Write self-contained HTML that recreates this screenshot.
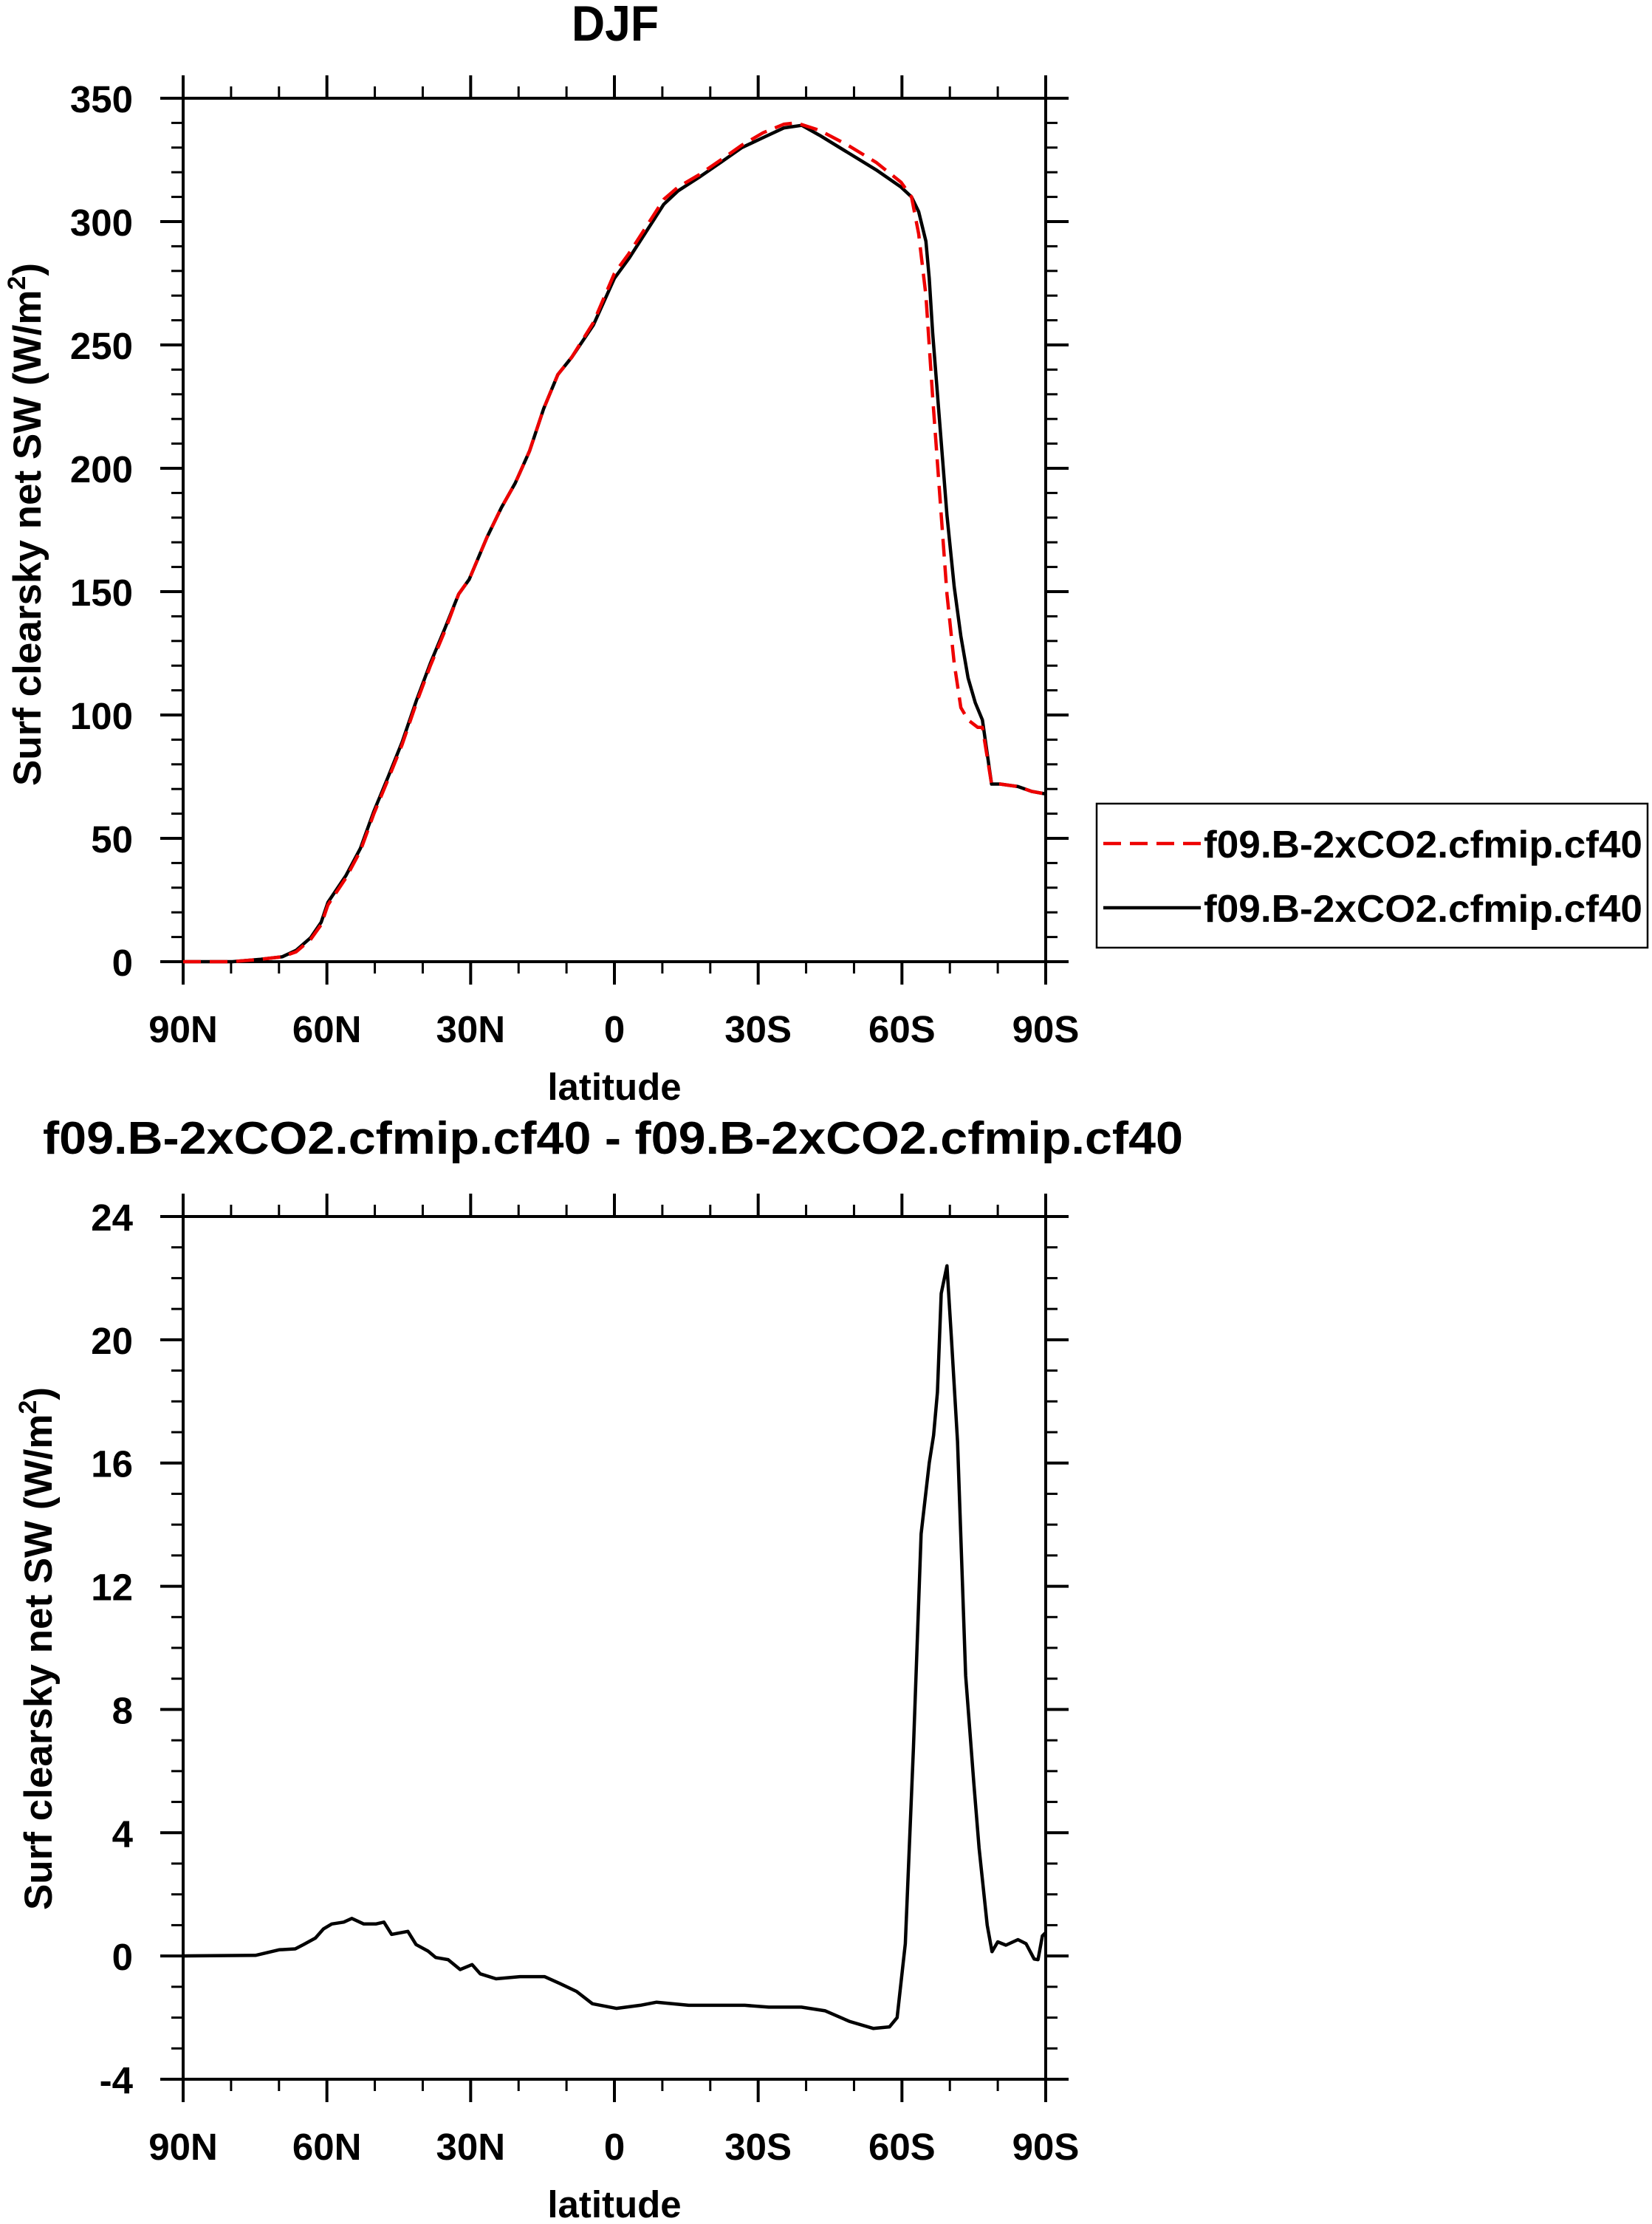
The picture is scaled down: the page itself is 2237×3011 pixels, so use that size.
<!DOCTYPE html>
<html><head><meta charset="utf-8"><style>
html,body{margin:0;padding:0;background:#fff;}
svg{display:block;font-family:"Liberation Sans",Arial,sans-serif;font-weight:bold;}
</style></head><body>
<svg id="fig" width="2237" height="3011" viewBox="0 0 2237 3011" xmlns="http://www.w3.org/2000/svg">
<text x="833" y="55" font-size="68" text-anchor="middle" textLength="118" lengthAdjust="spacingAndGlyphs">DJF</text>
<text x="830" y="1562" font-size="62" text-anchor="middle" textLength="1544" lengthAdjust="spacingAndGlyphs">f09.B-2xCO2.cfmip.cf40 - f09.B-2xCO2.cfmip.cf40</text>
<g id="top"></g>
<g id="bot"></g>
<g>
<rect x="1485" y="1088" width="746" height="195" fill="none" stroke="#000" stroke-width="2.5"/>
<line x1="1494" y1="1142" x2="1626" y2="1142" stroke="#e00" stroke-width="4.5" stroke-dasharray="24,12"/>
<text x="1630" y="1161" font-size="52" textLength="594" lengthAdjust="spacingAndGlyphs">f09.B-2xCO2.cfmip.cf40</text>
<line x1="1494" y1="1229" x2="1626" y2="1229" stroke="#000" stroke-width="4.5"/>
<text x="1630" y="1248" font-size="52" textLength="594" lengthAdjust="spacingAndGlyphs">f09.B-2xCO2.cfmip.cf40</text>
</g>
</svg>
<script>
const xTickLats = [90,60,30,0,-30,-60,-90];
const xTickLabels = ["90N","60N","30N","0","30S","60S","90S"];
const topYTicks = [0,50,100,150,200,250,300,350];
const botYTicks = [-4,0,4,8,12,16,20,24];
const blackLat = [90,79.7,73.8,69.3,66.4,63.4,61.2,59.8,56,53,50.2,47.2,44.3,41.3,38.4,35.4,32.5,30.3,26.6,23.6,20.7,17.7,14.8,11.8,8.9,4.4,0,-3,-6,-10.3,-13.3,-17.7,-22.2,-26.6,-31,-35.4,-39.1,-42.8,-48.7,-54.6,-59.8,-62,-63.5,-65,-65.7,-66.4,-67.9,-69.4,-70.9,-72.3,-73.8,-75.3,-76.8,-78.7,-80.5,-84.2,-87.1,-90];
const blackVal = [0,0,1,2,4.6,9.7,16,24,35,46,61,75,89,106,121,135,149,155,172,184,194,207,224,238,245,258,277,285,294,307,312.5,318,324,330,334,338,339,335,328,321,314,310,304,292,277,255,218,181,152,132,115,105,98,72,72,71,69,68];
const redLat = [90,79.7,73.8,69.3,66.4,63.4,61.2,59.8,56,53,50.2,47.2,44.3,41.3,38.4,35.4,32.5,30.3,26.6,23.6,20.7,17.7,14.8,11.8,8.9,4.4,0,-3,-6,-10.3,-13.3,-17.7,-22.2,-26.6,-31,-35.4,-38,-42.8,-48.7,-54.6,-59.8,-62,-63.5,-65,-66.4,-67.9,-69.4,-70.9,-72.3,-73.8,-75.8,-76.8,-78.7,-80.5,-84.2,-87.1,-90];
const redVal = [0,0,1,2,4,9,15,23,34,45,60,74,88,105,120,134,149,155,172,184,194,207,224,238,245,259,279,287,296,309,314,319,325,331,336,339.5,340,337,331,324,316,310,295,270,229,189,149,121,103,98,95,95,72,72,71,69,68];
const diffLat = [90,74.9,70,66.6,64.9,62.4,60.7,59,56.5,54.8,52.3,49.8,48.1,46.5,43.1,41.4,38.9,37.3,34.7,32.2,29.7,28,24.7,19.7,14.6,11.3,7.9,4.6,-0.4,-5.4,-8.8,-15.5,-22.2,-27.2,-32.2,-39,-44,-49,-54,-57.4,-59,-60.7,-62.4,-64,-65.7,-66.6,-67.4,-68.2,-69.4,-70.3,-71.6,-73.3,-75,-76.1,-77.8,-78.8,-80,-81.7,-84.2,-85.9,-87.6,-88.4,-89.3,-90];
const diffVal = [0,0.02,0.2,0.23,0.37,0.58,0.88,1.04,1.1,1.22,1.04,1.04,1.1,0.7,0.8,0.37,0.16,-0.05,-0.12,-0.44,-0.28,-0.58,-0.74,-0.67,-0.67,-0.9,-1.15,-1.55,-1.7,-1.6,-1.5,-1.6,-1.6,-1.6,-1.66,-1.66,-1.78,-2.12,-2.35,-2.3,-2.0,0.4,6.75,13.7,16,16.9,18.3,21.5,22.4,20.1,16.7,9.1,5.6,3.5,1,0.14,0.46,0.35,0.53,0.4,-0.1,-0.12,0.65,0.76];

const NS="http://www.w3.org/2000/svg";
function mk(parent,tag,attrs){const e=document.createElementNS(NS,tag);for(const k in attrs)e.setAttribute(k,attrs[k]);parent.appendChild(e);return e;}
const L=248,R=1416;
function xs(lat){return L+(90-lat)/180*(R-L);}

function drawPanel(g,top,bot,ymin,ymax,yTicks,minorStep,yTitleX,yTitleY){
  const ys=v=>bot-(v-ymin)/(ymax-ymin)*(bot-top);
  const fr=mk(g,'rect',{x:L,y:top,width:R-L,height:bot-top,fill:'none',stroke:'#000','stroke-width':4});
  
  
  for(let lat=90;lat>=-90;lat-=10){
    const major=lat%30===0, len=major?31:16, x=xs(lat);
    const t1=mk(g,'line',{x1:x,y1:bot,x2:x,y2:bot+len,stroke:'#000','stroke-width':major?4:3});
    
    
    const t2=mk(g,'line',{x1:x,y1:top,x2:x,y2:top-len,stroke:'#000','stroke-width':major?4:3});
    
    
  }
  xTickLats.forEach((lat,i)=>{
    const t=mk(g,'text',{x:xs(lat),y:bot+109,'font-size':51,'text-anchor':'middle'});
    t.textContent=xTickLabels[i];
    
    
  });
  const majorStep=yTicks[1]-yTicks[0];
  for(let v=ymin;v<=ymax+1e-9;v+=minorStep){
    const major=Math.abs(((v-ymin)/majorStep)-Math.round((v-ymin)/majorStep))<1e-6;
    const len=major?31:16,y=ys(v);
    const t1=mk(g,'line',{x1:L-len,y1:y,x2:L,y2:y,stroke:'#000','stroke-width':major?4:3});
    
    
    const t2=mk(g,'line',{x1:R,y1:y,x2:R+len,y2:y,stroke:'#000','stroke-width':major?4:3});
    
    
  }
  yTicks.forEach(v=>{
    const t=mk(g,'text',{x:180,y:ys(v)+19,'font-size':51,'text-anchor':'end'});
    t.textContent=String(v);
    
    
  });
  const xt=mk(g,'text',{x:(L+R)/2,y:bot+187,'font-size':51,'text-anchor':'middle'});
  xt.textContent='latitude';
  
  
  const yt=mk(g,'text',{x:0,y:0,'font-size':53,'text-anchor':'middle',transform:`translate(${yTitleX},${yTitleY}) rotate(-90)`});
  yt.innerHTML='Surf clearsky net SW (W/m<tspan font-size="34" dy="-21">2</tspan><tspan dy="21">)</tspan>';
  
  
  return ys;
}
function path(g,lats,vals,ys,color,dash,name){
  const d=lats.map((la,i)=>(i?'L':'M')+xs(la).toFixed(1)+','+ys(vals[i]).toFixed(1)).join(' ');
  const p=mk(g,'path',{d:d,fill:'none',stroke:color,'stroke-width':4.5,'stroke-linejoin':'round'});
  if(dash)p.setAttribute('stroke-dasharray',dash);
  
  
}
const gt=document.getElementById('top');
const ysT=drawPanel(gt,133,1302,0,350,topYTicks,10,55,710);
path(gt,blackLat,blackVal,ysT,'#000',null,'series-black-line');
path(gt,redLat,redVal,ysT,'#e00','24,12','series-red-dashed-line');
const gb=document.getElementById('bot');
const ysB=drawPanel(gb,1647,2815,-4,24,botYTicks,1,70,2232);
path(gb,diffLat,diffVal,ysB,'#000',null,'difference-line');
</script>
</body></html>
